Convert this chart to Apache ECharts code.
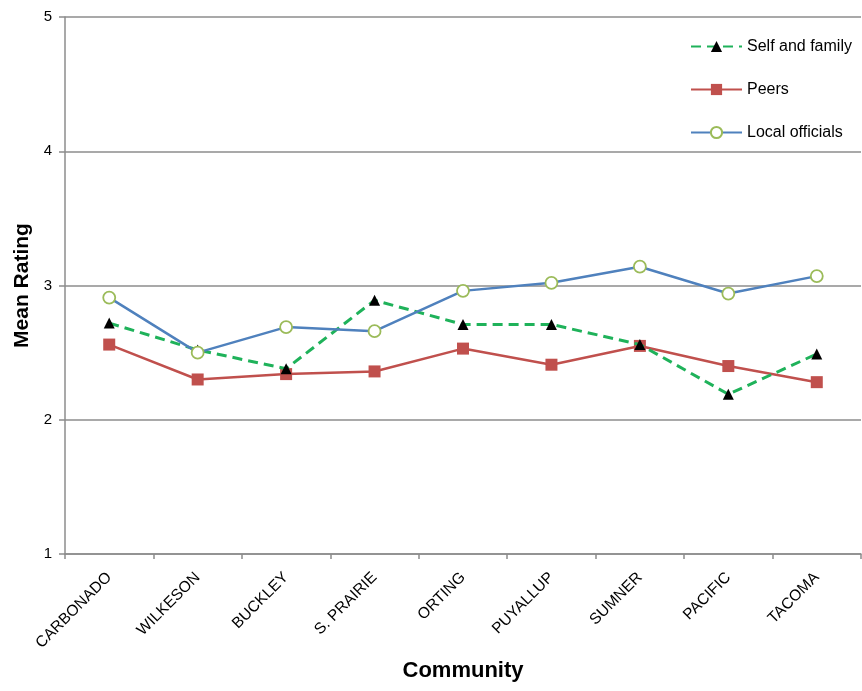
<!DOCTYPE html>
<html>
<head>
<meta charset="utf-8">
<script src="https://cdn.jsdelivr.net/npm/echarts@6/dist/echarts.min.js"></script>
<style>
  html, body { margin: 0; padding: 0; background: #fff; }
  #chart { width: 862px; height: 691px; }
</style>
</head>
<body>
<div id="chart"></div>
<script>
// Community ratings by source of information
const communities = ['CARBONADO', 'WILKESON', 'BUCKLEY', 'S. PRAIRIE', 'ORTING', 'PUYALLUP', 'SUMNER', 'PACIFIC', 'TACOMA'];
const selfAndFamily = [2.72, 2.52, 2.38, 2.89, 2.71, 2.71, 2.56, 2.19, 2.49];
const peers = [2.56, 2.30, 2.34, 2.36, 2.53, 2.41, 2.55, 2.40, 2.28];
const localOfficials = [2.91, 2.50, 2.69, 2.66, 2.96, 3.02, 3.14, 2.94, 3.07];
const yTicks = { min: 1, max: 5, interval: 1 };

const FONT = '"Liberation Sans", Arial, sans-serif';
const chart = echarts.init(document.getElementById('chart'));

chart.setOption({
  animation: false,
  textStyle: { fontFamily: FONT },
  grid: { left: 65, top: 17, right: 1, bottom: 137 },
  legend: {
    orient: 'vertical',
    left: 685,
    top: 33,
    itemWidth: 51,
    itemHeight: 14,
    itemGap: 26,
    textStyle: { fontFamily: FONT, fontSize: 16, color: '#000', lineHeight: 17 },
    data: ['Self and family', 'Peers', 'Local officials']
  },
  xAxis: {
    type: 'category',
    data: communities,
    boundaryGap: true,
    name: 'Community',
    nameLocation: 'middle',
    nameGap: 106,
    nameTextStyle: { fontFamily: FONT, fontSize: 22, fontWeight: 'bold', color: '#000' },
    axisLine: { lineStyle: { color: '#8c8c8c', width: 1.5 } },
    axisTick: { show: true, length: 5, alignWithLabel: false, lineStyle: { color: '#8c8c8c', width: 1.5 } },
    axisLabel: { rotate: 45, fontFamily: FONT, fontSize: 15.5, color: '#000', margin: 21, interval: 0 }
  },
  yAxis: {
    type: 'value',
    min: yTicks.min,
    max: yTicks.max,
    interval: yTicks.interval,
    name: 'Mean Rating',
    nameLocation: 'middle',
    nameGap: 31,
    nameRotate: 90,
    nameTextStyle: { fontFamily: FONT, fontSize: 21, fontWeight: 'bold', color: '#000' },
    axisLine: { show: true, lineStyle: { color: '#8c8c8c', width: 1.5 } },
    axisTick: { show: true, length: 6, inside: false, lineStyle: { color: '#8c8c8c', width: 1.5 } },
    axisLabel: { fontFamily: FONT, fontSize: 15, color: '#000', margin: 13 },
    splitLine: { show: true, lineStyle: { color: '#8c8c8c', width: 1.5 } }
  },
  series: [
    {
      name: 'Self and family',
      type: 'line',
      data: selfAndFamily,
      z: 3,
      symbol: 'triangle',
      symbolSize: 11,
      itemStyle: { color: '#000', borderWidth: 0 },
      lineStyle: { color: '#1fb25a', width: 3, type: [10, 6] }
    },
    {
      name: 'Peers',
      type: 'line',
      data: peers,
      z: 2,
      symbol: 'rect',
      symbolSize: 12,
      itemStyle: { color: '#c0504d', borderWidth: 0 },
      lineStyle: { color: '#c0504d', width: 2.5 }
    },
    {
      name: 'Local officials',
      type: 'line',
      data: localOfficials,
      z: 4,
      symbol: 'circle',
      symbolSize: 12,
      itemStyle: { color: '#fff', borderColor: '#9bbb59', borderWidth: 1.8 },
      lineStyle: { color: '#4f81bd', width: 2.5 }
    }
  ]
});
</script>
</body>
</html>
